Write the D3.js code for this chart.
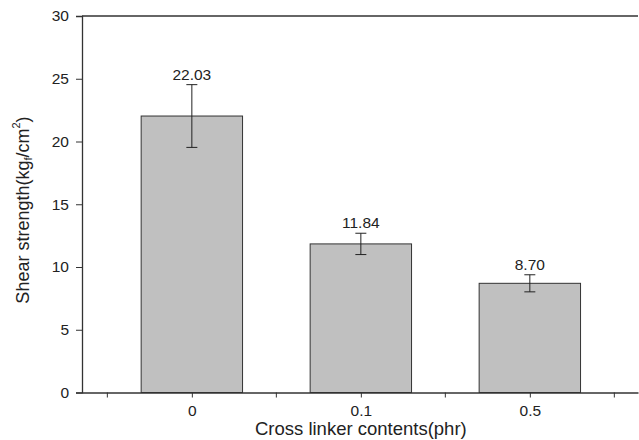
<!DOCTYPE html>
<html>
<head>
<meta charset="utf-8">
<script src="https://cdn.jsdelivr.net/npm/d3@7"></script>
<style>
  body { margin: 0; background: #fff; }
  svg text { font-family: Arial, "Liberation Sans", sans-serif; fill: #222; }
</style>
</head>
<body>
<svg id="chart" width="639" height="440"></svg>
<script>
const categories = ["0", "0.1", "0.5"];
const strength = [22.03, 11.84, 8.70];
const errors = [2.5, 0.85, 0.68];
const valueLabels = ["22.03", "11.84", "8.70"];
const yTicks = [0, 5, 10, 15, 20, 25, 30];

const svg = d3.select("#chart");
const plotLeft = 82, plotRight = 638, plotTop = 16, plotBottom = 392.5;

// categories sit at 1,2,3 with minor ticks halfway between
const x = d3.scaleLinear().domain([0.35, 3.64]).range([plotLeft, plotRight]);
const y = d3.scaleLinear().domain([0, 30]).range([plotBottom, plotTop]);
const barWidth = x(1.6) - x(1);

const axisColor = "#333";
const labelSize = 15.5;

// frame top line
svg.append("line")
  .attr("x1", plotLeft).attr("x2", plotRight)
  .attr("y1", plotTop).attr("y2", plotTop)
  .attr("stroke", axisColor).attr("stroke-width", 1.3);

// bars
svg.append("g").selectAll("rect")
  .data(strength)
  .join("rect")
  .attr("x", (d, i) => x(i + 1) - barWidth / 2)
  .attr("y", (d) => y(d))
  .attr("width", barWidth)
  .attr("height", (d) => y(0) - y(d))
  .attr("fill", "#c0c0c0")
  .attr("stroke", axisColor)
  .attr("stroke-width", 1);

// error bars
const errG = svg.append("g").attr("stroke", "#222").attr("stroke-width", 1);
strength.forEach((v, i) => {
  const cx = x(i + 1);
  errG.append("line").attr("x1", cx).attr("x2", cx).attr("y1", y(v + errors[i])).attr("y2", y(v - errors[i]));
  errG.append("line").attr("x1", cx - 5.5).attr("x2", cx + 5.5).attr("y1", y(v + errors[i])).attr("y2", y(v + errors[i]));
  errG.append("line").attr("x1", cx - 5.5).attr("x2", cx + 5.5).attr("y1", y(v - errors[i])).attr("y2", y(v - errors[i]));
});

// value labels
svg.append("g").selectAll("text")
  .data(strength)
  .join("text")
  .attr("x", (d, i) => x(i + 1))
  .attr("y", (d, i) => y(d + errors[i]) - 5)
  .attr("text-anchor", "middle")
  .attr("font-size", labelSize)
  .text((d, i) => valueLabels[i]);

// y axis
const yAxis = svg.append("g")
  .attr("transform", `translate(${plotLeft},0)`)
  .call(d3.axisLeft(y).tickValues(yTicks).tickSize(6).tickPadding(7));
yAxis.select(".domain").attr("stroke", axisColor).attr("stroke-width", 1.3);
yAxis.selectAll(".tick line").attr("stroke", axisColor);
yAxis.selectAll(".tick text").attr("font-size", labelSize).attr("font-family", "Arial, 'Liberation Sans', sans-serif").attr("fill", "#222");

// x axis: major ticks at categories, minor between
const xAxis = svg.append("g")
  .attr("transform", `translate(0,${plotBottom})`)
  .call(d3.axisBottom(x).tickValues([1, 2, 3]).tickFormat((d) => categories[d - 1]).tickSize(5).tickPadding(7).tickSizeOuter(0));
xAxis.select(".domain").attr("stroke", axisColor).attr("stroke-width", 1.3);
xAxis.selectAll(".tick line").attr("stroke", axisColor);
xAxis.selectAll(".tick text").attr("font-size", labelSize).attr("font-family", "Arial, 'Liberation Sans', sans-serif").attr("fill", "#222");

svg.append("g")
  .attr("transform", `translate(0,${plotBottom})`)
  .selectAll("line")
  .data([0.5, 1.5, 2.5, 3.5])
  .join("line")
  .attr("x1", (d) => x(d)).attr("x2", (d) => x(d))
  .attr("y1", 0).attr("y2", 5)
  .attr("stroke", axisColor);

// axis titles
svg.append("text")
  .attr("x", x(2))
  .attr("y", 435)
  .attr("text-anchor", "middle")
  .attr("font-size", 18.5)
  .text("Cross linker contents(phr)");

const yTitle = svg.append("text")
  .attr("transform", "translate(29,210) rotate(-90)")
  .attr("text-anchor", "middle")
  .attr("font-size", 18);
yTitle.append("tspan").text("Shear strength(kg");
yTitle.append("tspan").attr("font-size", 11).attr("dy", 3).text("f");
yTitle.append("tspan").attr("dy", -3).text("/cm");
yTitle.append("tspan").attr("font-size", 11).attr("dy", -9).text("2");
yTitle.append("tspan").attr("dy", 9).text(")");
</script>
</body>
</html>
